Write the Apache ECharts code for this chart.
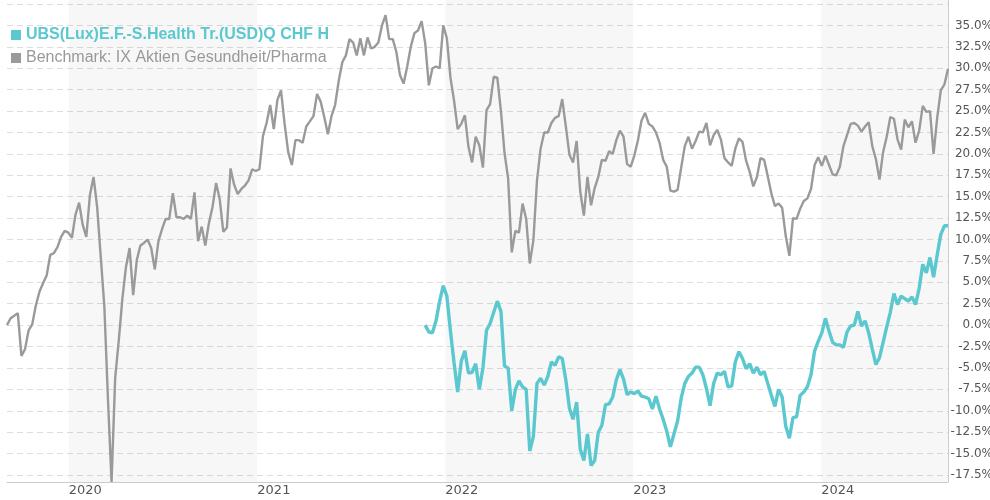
<!DOCTYPE html>
<html><head><meta charset="utf-8">
<script src="https://cdn.jsdelivr.net/npm/echarts@6/dist/echarts.min.js"></script>
<style>html,body{margin:0;padding:0;background:#fff}#c{width:990px;height:500px}</style>
</head><body><div id="c"></div>
<script>
// ---- data ----
const fundName = 'UBS(Lux)E.F.-S.Health Tr.(USD)Q CHF H';
const benchName = 'Benchmark: IX Aktien Gesundheit/Pharma';
const axisStart = [2019, 8, 3];   // 2019-09-03
const axisEnd = [2024, 8, 3];     // 2024-09-03
const benchStart = [2019, 8, 3];  // weekly series start
const fundStart = [2021, 10, 23]; // weekly series start
const yearTicks = [2020, 2021, 2022, 2023, 2024];
const shadedYears = [2020, 2022, 2024];
const yMin = -17.5, yMax = 37.5, yStep = 2.5;

const benchValues = [
 0, 0.8, 1.1, 1.4, -3.6, -2.8, -0.6, 0.1, 2.3, 3.9,
 4.9, 5.8, 8.2, 8.4, 9.1, 10.3, 11, 10.8, 10.2, 12.9,
 14.3, 11.7, 10.3, 15.2, 17.3, 13.8, 8, 2.2, -8.6, -18.3,
 -6.2, -1.8, 3.1, 6.8, 9.0, 3.5, 7.6, 9.3, 9.6, 10,
 9, 6.5, 9.8, 11.2, 12.4, 12.4, 15.4, 12.6, 12.6, 12.4,
 12.8, 12.4, 15.5, 9.8, 11.5, 9.3, 11.9, 13.8, 16.6, 14.7,
 10.9, 11.4, 18.3, 16.4, 15.3, 15.9, 16.3, 16.9, 18.2, 18,
 18.2, 22.1, 23.6, 25.7, 22.9, 26.3, 27.4, 23.5, 20.2, 18.7,
 21.6, 21.6, 21.3, 23.2, 23.8, 24.4, 27.0, 26.1, 24.3, 22.3,
 24.4, 25.7, 28.5, 30.7, 31.5, 33.4, 33, 31.5, 33.5, 31.5,
 33.6, 32.3, 32.5, 33, 35, 36.2, 33.4, 33.4, 31.9, 29.2,
 28.2, 30.2, 32.5, 34.1, 34.4, 35.5, 32.9, 28, 30, 30.2,
 30, 35, 33.5, 28.9, 26.2, 22.9, 23.5, 24.5, 20.8, 19,
 22, 21, 18.4, 25.1, 25.8, 29, 28.9, 25, 20.1, 17.1,
 8.5, 11, 10.8, 14.2, 12.4, 7.2, 9.9, 16.9, 20.6, 22.5,
 22.5, 23.6, 24.2, 24.4, 26.4, 23.2, 19.9, 19, 21.5, 15.6,
 12.8, 17.3, 14, 16, 17.3, 19.3, 19.2, 20.3, 20, 21.6,
 22.7, 22, 18.8, 18.5, 19.8, 21.6, 23.9, 24.8, 23.5, 23.2,
 22.5, 21.3, 19.3, 18.5, 15.7, 15.6, 15.8, 18.4, 20.9, 22.0,
 20.6, 21.5, 22.6, 22.5, 23.6, 21, 22.2, 22.8, 21.7, 19.5,
 19, 18.6, 20.6, 21.8, 21.4, 19.2, 17.9, 16.2, 17.3, 19.5,
 19.3, 17.4, 15.4, 13.9, 14.2, 13.7, 10.4, 8.1, 12.5, 12.4,
 13.6, 14.5, 14.8, 15.9, 18.7, 19.6, 18.6, 19.8, 18.7, 17.6,
 17.5, 18.5, 20.9, 22.2, 23.5, 23.6, 23.3, 22.6, 23.2, 23.7,
 20.9, 19.4, 17, 20.2, 22, 24.3, 24.1, 21.7, 20.5, 24,
 23.1, 23.8, 21.3, 22.7, 25.6, 24.9, 25.0, 20, 24.2, 27.4,
 28.1, 29.9
];

const fundValues = [
 0, -0.8, -0.9, 0.5, 2.8, 4.6, 3.4, -0.7, -4.4, -7.8,
 -4.2, -3, -5.6, -5.5, -4.5, -7.5, -5, -0.6, 0.2, 1.5,
 2.8, 1.6, -4.8, -5, -10, -7.5, -6.5, -7.2, -7.5, -14.7,
 -13, -6.8, -6.2, -7, -6, -4.3, -4.7, -3.7, -3.9, -6.4,
 -9.7, -11, -9, -14.5, -15.8, -12.7, -16.4, -15.8, -12.5, -11.7,
 -9.3, -9.2, -8.4, -6.4, -5.2, -6.3, -8.1, -7.8, -8, -7.7,
 -8.3, -8.4, -8.6, -9.8, -8.3, -9.8, -11, -12.4, -14.2, -12.7,
 -11.2, -8.5, -6.8, -6, -5.6, -4.9, -4.9, -5.8, -7.4, -9.4,
 -6.8, -5.6, -5.8, -5.4, -7.2, -7.1, -4.3, -3.1, -3.9, -5.1,
 -4.5, -5.6, -4.9, -5.8, -5.4, -6.8, -8.2, -9.5, -7.5, -8.4,
 -11.8, -13.2, -10.8, -10.7, -8.2, -7.8, -7.2, -5.8, -3, -1.9,
 -0.9, 0.8, -0.7, -2, -2.3, -2.3, -2.6, -0.8, -0.1, 0,
 1.6, -0.1, 0.5, -0.9, -2.8, -4.6, -3.8, -2, -0.2, 1.5,
 3.7, 2.4, 3.4, 3.1, 2.8, 3.3, 2.4, 4.3, 7.1, 6.1,
 7.9, 5.6, 8.2, 10.6, 11.6, 11.6
];

// ---- build ----
const teal = '#5bc8cf', grey = '#9a9a9a';
const ts = (y, m, d) => new Date(y, m, d).getTime();
const weekly = (start, vals) => vals.map((v, i) => [ts(start[0], start[1], start[2] + 7 * i), v]);
const startTs = ts(...axisStart), endTs = ts(...axisEnd);
const bands = shadedYears.map(y => [{ xAxis: ts(y, 0, 1) }, { xAxis: Math.min(ts(y + 1, 0, 1), endTs) }]);

const chart = echarts.init(document.getElementById('c'), null, { renderer: 'canvas' });
chart.setOption({
  animation: false,
  backgroundColor: '#fff',
  legend: {
    orient: 'vertical', left: 6, top: 21, itemWidth: 10, itemHeight: 10, itemGap: 5,
    icon: 'rect', selectedMode: false,
    textStyle: { fontFamily: 'Liberation Sans, Arial, sans-serif', fontSize: 16, lineHeight: 18 },
    data: [
      { name: fundName, textStyle: { color: teal, fontWeight: 'bold' } },
      { name: benchName, textStyle: { color: '#999' } }
    ]
  },
  grid: [
    { left: 7, right: 42, top: 4, bottom: 25, containLabel: false, outerBoundsMode: 'none' },
    { left: 7, right: 42, top: 0, bottom: 18, containLabel: false, outerBoundsMode: 'none' }
  ],
  xAxis: [
    { type: 'time', gridIndex: 0, min: startTs, max: endTs, show: false },
    {
      type: 'value', gridIndex: 1, min: startTs, max: endTs,
      axisLine: { show: true, lineStyle: { color: '#ccc' } },
      axisTick: { show: false }, splitLine: { show: false },
      axisLabel: {
        customValues: yearTicks.map(y => ts(y, 0, 1)),
        formatter: v => String(new Date(v).getFullYear()),
        align: 'left', color: '#555', fontFamily: 'DejaVu Sans', fontSize: 13, margin: 2
      }
    }
  ],
  yAxis: [
    {
      type: 'value', gridIndex: 0, position: 'right', min: yMin, max: yMax, interval: yStep,
      axisLine: { show: false }, axisTick: { show: false },
      splitLine: { show: true, lineStyle: { color: '#ddd', type: [6, 4] } },
      axisLabel: {
        formatter: v => v.toFixed(1) + '%', align: 'right', margin: 45,
        color: '#555', fontFamily: 'DejaVu Sans', fontSize: 12, showMaxLabel: false
      }
    },
    {
      type: 'value', gridIndex: 1, position: 'right', min: 0, max: 1,
      axisLine: { show: true, lineStyle: { color: '#ccc' } },
      axisTick: { show: false }, axisLabel: { show: false }, splitLine: { show: false }
    }
  ],
  series: [
    {
      type: 'line', xAxisIndex: 1, yAxisIndex: 1, data: [], silent: true,
      markArea: { silent: true, itemStyle: { color: 'rgba(0,0,0,0.03)' }, data: bands }
    },
    {
      name: benchName, type: 'line', xAxisIndex: 0, yAxisIndex: 0,
      data: weekly(benchStart, benchValues), showSymbol: false, symbol: 'none',
      clip: false, color: grey, lineStyle: { width: 2.4, color: grey }, z: 3
    },
    {
      name: fundName, type: 'line', xAxisIndex: 0, yAxisIndex: 0,
      data: weekly(fundStart, fundValues), showSymbol: false, symbol: 'none',
      color: teal, lineStyle: { width: 3.4, color: teal }, z: 4
    }
  ]
});
</script></body></html>
